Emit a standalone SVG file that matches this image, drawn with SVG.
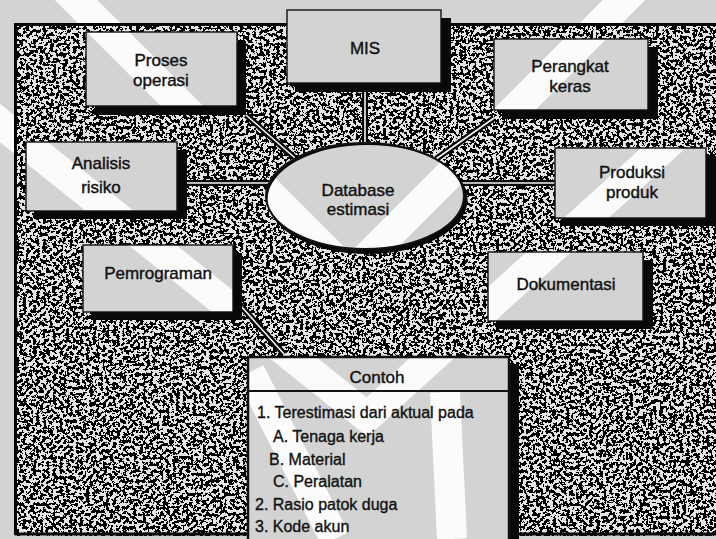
<svg xmlns="http://www.w3.org/2000/svg" width="716" height="539" viewBox="0 0 716 539">
  <style>
    .lbl{font-family:"Liberation Sans",Arial,sans-serif;font-size:17px;fill:#111;stroke:#111;stroke-width:0.4;text-anchor:middle}
    .item{font-family:"Liberation Sans",Arial,sans-serif;font-size:16px;fill:#111;stroke:#111;stroke-width:0.35}
    .frame{fill:none;stroke:#111;stroke-width:1.4}
    .shadow{fill:#080808}
    .edge{fill:none;stroke:#050505;stroke-width:6}
    .core{fill:none;stroke:#f4f4f4;stroke-width:1.6}
    .band{fill:none;stroke:#fbfbfb;stroke-width:30}
  </style>
  <defs>
    <!-- black/white halftone grain for the hatched panel -->
    <filter id="speckle" x="0" y="0" width="1" height="1" color-interpolation-filters="sRGB">
      <feTurbulence type="fractalNoise" baseFrequency="0.3" numOctaves="3" seed="11" result="t"/>
      <feColorMatrix in="t" type="matrix" values="0 0 0 0 0  0 0 0 0 0  0 0 0 0 0  1 0 0 0 0" result="a"/>
      <feComponentTransfer in="a">
        <feFuncA type="discrete" tableValues="1 1 1 1 1 1 1 1 1 1 0 0 0 0 0 0 0 0 0 0"/>
      </feComponentTransfer>
    </filter>
    <!-- panel grain is cut away where the boxes and the ellipse sit -->
    <mask id="holes" maskUnits="userSpaceOnUse" x="0" y="0" width="716" height="539">
      <rect x="0" y="0" width="716" height="539" fill="#fff"/>
      <rect x="86" y="32" width="151" height="74" fill="#000"/>
      <rect x="287" y="10" width="154" height="73" fill="#000"/>
      <rect x="494" y="39" width="154" height="71" fill="#000"/>
      <rect x="26" y="142" width="151" height="69" fill="#000"/>
      <rect x="555" y="148" width="151" height="70" fill="#000"/>
      <rect x="83" y="245" width="150" height="67" fill="#000"/>
      <rect x="488" y="252" width="155" height="69" fill="#000"/>
      <rect x="248" y="357" width="261" height="190" fill="#000"/>
      <ellipse cx="365" cy="196" rx="99" ry="53" fill="#000"/>
    </mask>
  </defs>

  <!-- paper tone with the pale watermark bands -->
  <rect x="0" y="0" width="716" height="539" fill="#d3d3d3"/>
  <g id="watermark">
    <polyline class="band" points="-20,107 367,417 745,74"/>
    <polyline class="band" points="60,-16 350,274 640,-16"/>
    <line class="band" x1="250" y1="372" x2="335" y2="539"/>
    <line class="band" x1="445" y1="392" x2="452" y2="539"/>
  </g>

  <!-- hatched backdrop panel -->
  <g id="panel" mask="url(#holes)">
    <rect x="15" y="23" width="701" height="513" fill="#e4e4e4"/>
    <rect x="15" y="23" width="701" height="513" filter="url(#speckle)"/>
    <path d="M15,24.5 H716 M15.5,23 V535 M15,534 H716" fill="none" stroke="#050505" stroke-width="3"/>
  </g>

  <!-- connectors -->
  <g id="connectors">
    <path class="edge" d="M365,92 V143 M246,115 L295,158 M494,118 L436,159 M186,183 H269 M461,183 H555 M240,305 L284,354"/>
    <path class="core" d="M365,92 V143 M246,115 L295,158 M494,118 L436,159 M186,183 H269 M461,183 H555 M240,305 L284,354"/>
  </g>

  <g id="proses-operasi">
    <path class="shadow" d="M237,41 H246 V115 H95 V106 H237 Z"/>
    <rect class="frame" x="86" y="32" width="151" height="74"/>
    <text class="lbl" x="161" y="66">Proses</text>
    <text class="lbl" x="161" y="86">operasi</text>
  </g>

  <g id="mis">
    <path class="shadow" d="M441,18 H451 V92 H295 V83 H441 Z"/>
    <rect class="frame" x="287" y="10" width="154" height="73"/>
    <text class="lbl" x="365" y="54">MIS</text>
  </g>

  <g id="perangkat-keras">
    <path class="shadow" d="M648,47 H658 V119 H502 V110 H648 Z"/>
    <rect class="frame" x="494" y="39" width="154" height="71"/>
    <text class="lbl" x="570" y="72">Perangkat</text>
    <text class="lbl" x="570" y="92">keras</text>
  </g>

  <g id="analisis-risiko">
    <path class="shadow" d="M177,150 H187 V219 H34 V211 H177 Z"/>
    <rect class="frame" x="26" y="142" width="151" height="69"/>
    <text class="lbl" x="101" y="169">Analisis</text>
    <text class="lbl" x="101" y="193">risiko</text>
  </g>

  <g id="produksi-produk">
    <path class="shadow" d="M706,156 H716 V226 H563 V218 H706 Z"/>
    <rect class="frame" x="555" y="148" width="151" height="70"/>
    <text class="lbl" x="632" y="178">Produksi</text>
    <text class="lbl" x="632" y="198">produk</text>
  </g>

  <g id="pemrograman">
    <path class="shadow" d="M233,253 H242 V320 H91 V312 H233 Z"/>
    <rect class="frame" x="83" y="245" width="150" height="67"/>
    <text class="lbl" x="158" y="279">Pemrograman</text>
  </g>

  <g id="dokumentasi">
    <path class="shadow" d="M643,260 H653 V329 H496 V321 H643 Z"/>
    <rect class="frame" x="488" y="252" width="155" height="69"/>
    <text class="lbl" x="566" y="290">Dokumentasi</text>
  </g>

  <g id="database-estimasi">
    <path class="shadow" fill-rule="evenodd" d="M267.5,199.5 a100,54.5 0 1,0 200,0 a100,54.5 0 1,0 -200,0 Z M266,196 a99,53 0 1,0 198,0 a99,53 0 1,0 -198,0 Z"/>
    <ellipse cx="365" cy="196" rx="99" ry="53" fill="none" stroke="#111" stroke-width="2"/>
    <text class="lbl" x="358" y="196">Database</text>
    <text class="lbl" x="358" y="215">estimasi</text>
  </g>

  <g id="contoh">
    <rect class="shadow" x="509" y="365" width="10" height="174"/>
    <rect x="248" y="357" width="261" height="190" fill="none" stroke="#111" stroke-width="2.5"/>
    <line x1="248" y1="391" x2="509" y2="391" stroke="#111" stroke-width="2"/>
    <text class="lbl" x="377" y="383">Contoh</text>
    <text class="item" x="257" y="418">1. Terestimasi dari aktual pada</text>
    <text class="item" x="273" y="442">A. Tenaga kerja</text>
    <text class="item" x="269" y="465">B. Material</text>
    <text class="item" x="273" y="487">C. Peralatan</text>
    <text class="item" x="255" y="510">2. Rasio patok duga</text>
    <text class="item" x="255" y="532">3. Kode akun</text>
  </g>
</svg>
